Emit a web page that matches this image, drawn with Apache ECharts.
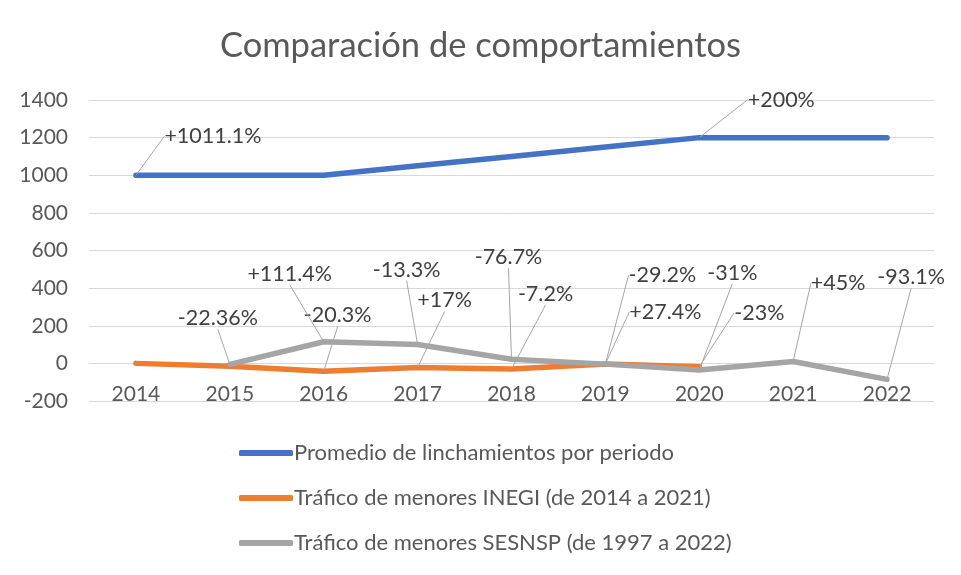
<!DOCTYPE html>
<html><head><meta charset="utf-8">
<script src="https://cdn.jsdelivr.net/npm/echarts@6/dist/echarts.min.js"></script>
<style>html,body{margin:0;padding:0;background:#fff}#c{width:961px;height:575px}</style>
</head><body><div id="c"></div>
<script>
const categories = ['2014','2015','2016','2017','2018','2019','2020','2021','2022'];
const seriesNames = ['Promedio de linchamientos por periodo','Tráfico de menores INEGI (de 2014 a 2021)','Tráfico de menores SESNSP (de 1997 a 2022)'];
const blueValues = [1000,1000,1000,1050,1100,1150,1200,1200,1200];
const orangeValues = [0,-15,-42,-22,-30,-3,-18,null,null];
const grayValues = [null,-5,115,100,22,-4,-35,10,-85];
const blueLabels = ['+1011.1%','','','','','','+200%','',''];
const orangeLabels = ['','','-20.3%','+17%','-7.2%','+27.4%','-23%','',''];
const grayLabels = ['','-22.36%','+111.4%','-13.3%','-76.7%','-29.2%','-31%','+45%','-93.1%'];
const yTicks = {min:-200,max:1400,interval:200};

// label offsets (px) from each point, per series
const offsets = [
  [[77,-39],null,null,null,null,null,[82,-38],null,null],
  [null,null,[14,-56],[27,-67],[34,-75],[60,-52],[60,-54],null,null],
  [null,[-12,-46],[-34,-68],[-11,-75],[-3,-102],[57,-89],[33,-97],[45,-78],[24,-102]]
];

const FONT = 'Lato';
const TXT = '#595959';
const GRID = {left:89, right:27, top:100, bottom:174};
const gridH = 575 - GRID.top - GRID.bottom;
const zeroOffset = -gridH * (0 - yTicks.min) / (yTicks.max - yTicks.min);

function mk(name, values, labels, color, idx){
  return {
    name, type:'line', data: values, connectNulls:false,
    symbol:'circle', symbolSize:1, showSymbol:true,
    lineStyle:{color, width:5.5, cap:'round', join:'round'},
    itemStyle:{color},
    emphasis:{disabled:true},
    label:{show:true, position:'inside', align:'center', verticalAlign:'middle',
      formatter:p=>labels[p.dataIndex]||'', fontFamily:FONT, fontSize:21.5, color:'#404040'},
    labelLine:{show:true, lineStyle:{color:'#a6a6a6', width:1}},
    labelLayout:function(p){const o=offsets[idx][p.dataIndex]; if(!o) return {}; return {dx:o[0], dy:o[1]};},
    z: 2+idx
  };
}
const chart = echarts.init(document.getElementById('c'));
chart.setOption({
  animation:false,
  backgroundColor:'#fff',
  title:{text:'Comparación de comportamientos', left:'center', top:23,
    textStyle:{fontFamily:FONT, fontSize:34.5, fontWeight:'normal', color:TXT}},
  grid:Object.assign({containLabel:false}, GRID),
  legend:{orient:'vertical', left:234, top:437, itemGap:23, itemWidth:54, itemHeight:6,
    icon:'roundRect', textStyle:{fontFamily:FONT, fontSize:22, color:TXT, padding:[0,0,0,-4]},
    data:seriesNames},
  xAxis:{type:'category', data:categories, boundaryGap:true, offset:zeroOffset,
    axisLine:{show:false, onZero:false},
    axisTick:{show:false},
    axisLabel:{fontFamily:FONT, fontSize:21, color:TXT, margin:20}},
  yAxis:{type:'value', min:yTicks.min, max:yTicks.max, interval:yTicks.interval,
    axisLine:{show:false}, axisTick:{show:false},
    splitLine:{lineStyle:{color:'#d9d9d9', width:1}},
    axisLabel:{fontFamily:FONT, fontSize:21, color:TXT, margin:21, formatter:v=>String(v)}},
  series:[
    mk(seriesNames[0], blueValues, blueLabels, '#4472C4', 0),
    mk(seriesNames[1], orangeValues, orangeLabels, '#ED7D31', 1),
    mk(seriesNames[2], grayValues, grayLabels, '#A5A5A5', 2)
  ]
});
</script></body></html>
